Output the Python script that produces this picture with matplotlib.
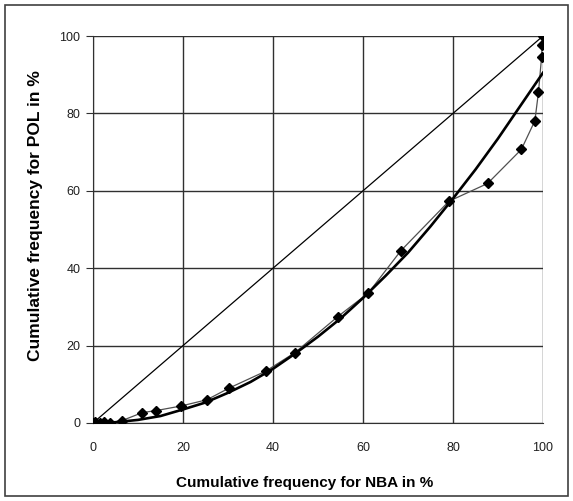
import matplotlib.pyplot as plt
from matplotlib.patches import Rectangle

plt.rcParams['font.family'] = ['Liberation Sans', 'DejaVu Sans']

# observed cumulative frequencies (%)
nba = [0, 0.4, 1.5, 2.5, 3.8, 6.4, 11, 14, 19.6, 25.3, 30.2, 38.4, 44.9,
       54.4, 61.2, 68.4, 79.1, 87.7, 95.2, 98.2, 99, 99.7, 99.8, 100]
pol = [0, 0.3, 0.1, 0.2, 0.1, 0.6, 2.7, 3.2, 4.4, 6, 9, 13.4, 18.2,
       27.5, 33.6, 44.5, 57.3, 61.9, 70.7, 78.1, 85.5, 94.7, 97.7, 100]

# smoothed trend curve
trend_x = [0, 5, 10, 15, 20, 25, 30, 35, 40, 45, 50, 55, 60, 65, 70, 75, 80,
           85, 90, 95, 100]
trend_y = [0, 0.2, 0.8, 1.8, 3.5, 5.3, 7.8, 10.6, 14, 18, 22.3, 27, 32.3,
           38, 44, 50.8, 58, 65.5, 73.5, 82, 90.5]

# line of equality
diag = [0, 100]

ticks = [0, 20, 40, 60, 80, 100]

fig = plt.figure(figsize=(5.73, 5.01), dpi=100)
fig.patches.append(Rectangle((0.009, 0.01), 0.982, 0.98, transform=fig.transFigure,
                             fill=False, edgecolor='#404040', linewidth=1.2))
ax = fig.add_axes([0.1623, 0.1557, 0.7853, 0.7724])

ax.plot(diag, diag, color='black', linewidth=0.9, zorder=3)
ax.plot(nba, pol, color='#505050', linewidth=0.9, marker='D', markersize=5,
        markerfacecolor='black', markeredgecolor='black', zorder=4)
ax.plot(trend_x, trend_y, color='black', linewidth=1.9, zorder=5)

ax.set_xlim(0, 100)
ax.set_ylim(0, 100)
ax.set_xticks(ticks)
ax.set_yticks(ticks)
ax.grid(True, color='#303030', linewidth=1.0)
ax.set_axisbelow(True)
for s in ax.spines.values():
    s.set_visible(False)
ax.spines['left'].set_visible(True)
ax.spines['left'].set_color('#303030')
ax.spines['bottom'].set_visible(True)
ax.spines['bottom'].set_color('#303030')

ax.tick_params(axis='y', length=5, direction='out', labelsize=9, pad=4,
               color='#303030', labelcolor='#202020')
ax.tick_params(axis='x', length=0, labelsize=9, pad=13.5, labelcolor='#202020')

ax.set_xlabel('Cumulative frequency for NBA in %', fontsize=11, fontweight='bold')
ax.set_ylabel('Cumulative frequency for POL in %', fontsize=12.5, fontweight='bold')
ax.xaxis.set_label_coords(0.471, -0.137)
ax.yaxis.set_label_coords(-0.111, 0.535)

fig.savefig('out.png', dpi=100)
